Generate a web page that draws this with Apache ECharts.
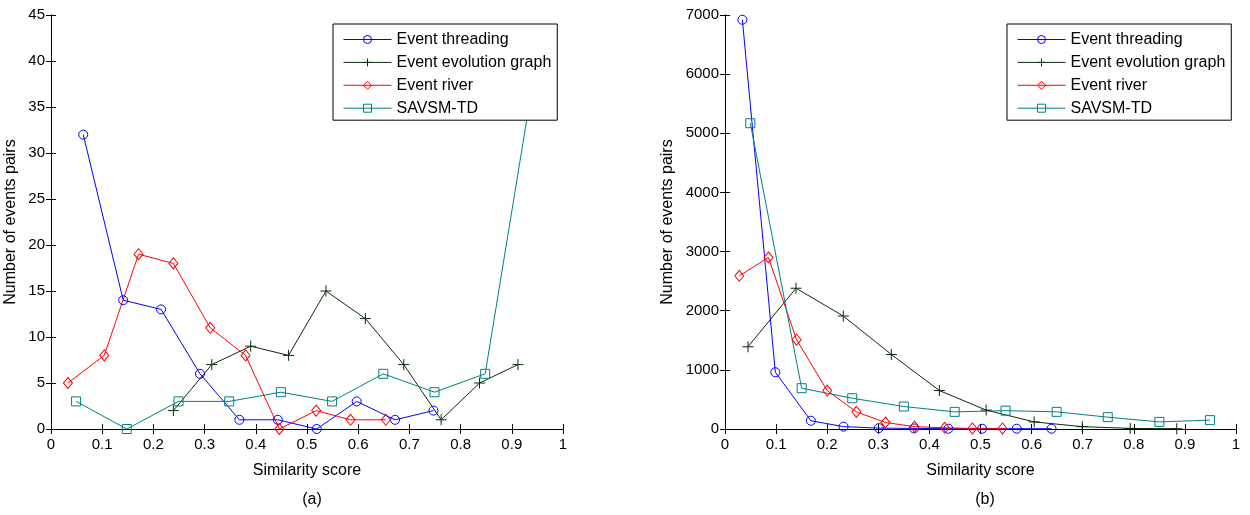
<!DOCTYPE html>
<html>
<head>
<meta charset="utf-8">
<script src="https://cdn.jsdelivr.net/npm/echarts@6/dist/echarts.min.js"></script>
<style>
  html, body { margin: 0; padding: 0; background: #fff; }
  #main { width: 1250px; height: 515px; }
</style>
</head>
<body>
<div id="main"></div>
<script>
// series names
var names = ['Event threading', 'Event evolution graph', 'Event river', 'SAVSM-TD'];

// (a) left panel
var aThreadX = [0.063, 0.141, 0.215, 0.291, 0.368, 0.443, 0.519, 0.597, 0.672, 0.747];
var aThreadY = [32, 14, 13, 6, 1, 1, 0, 3, 1, 2];
var aGraphX = [0.239, 0.314, 0.390, 0.464, 0.537, 0.614, 0.689, 0.762, 0.837, 0.912];
var aGraphY = [2, 7, 9, 8, 15, 12, 7, 1, 5, 7];
var aRiverX = [0.033, 0.104, 0.171, 0.239, 0.311, 0.380, 0.446, 0.518, 0.585, 0.654];
var aRiverY = [5, 8, 19, 18, 11, 8, 0, 2, 1, 1];
var aSavsmX = [0.049, 0.148, 0.249, 0.348, 0.449, 0.549, 0.649, 0.749, 0.848, 0.948];
var aSavsmY = [3, 0, 3, 3, 4, 3, 6, 4, 6, 40];

// (b) right panel
var bThreadX = [0.034, 0.0985, 0.168, 0.232, 0.301, 0.370, 0.437, 0.503, 0.571, 0.639];
var bThreadY = [6920, 960, 140, 40, 15, 10, 5, 5, 5, 5];
var bGraphX = [0.045, 0.139, 0.2315, 0.3255, 0.4195, 0.511, 0.605, 0.699, 0.793, 0.884];
var bGraphY = [1390, 2380, 1910, 1260, 650, 320, 120, 40, 10, 5];
var bRiverX = [0.028, 0.085, 0.140, 0.200, 0.257, 0.314, 0.371, 0.430, 0.484, 0.543];
var bRiverY = [2590, 2900, 1510, 650, 290, 110, 40, 20, 10, 10];
var bSavsmX = [0.0495, 0.150, 0.249, 0.350, 0.4495, 0.549, 0.649, 0.749, 0.850, 0.949];
var bSavsmY = [5170, 690, 520, 380, 290, 310, 290, 200, 120, 150];

var colors = ['#0000ff', '#0d2b0d', '#ff0000', '#008080'];
var symbols = ['circle', 'path://M0,5L10,5M5,0L5,10', 'diamond', 'rect'];
var symbolSizes = [9, 11, [9, 11], 9];
var font = "'Liberation Sans', Arial, sans-serif";

function pairs(xs, ys) {
  return xs.map(function (x, i) { return [x, ys[i]]; });
}

function makeSeries(idx, gridIdx, xs, ys) {
  return {
    name: names[idx],
    type: 'line',
    xAxisIndex: gridIdx * 2,
    yAxisIndex: gridIdx * 2,
    data: pairs(xs, ys),
    symbol: symbols[idx],
    symbolSize: symbolSizes[idx],
    showAllSymbol: true,
    animation: false,
    lineStyle: { color: colors[idx], width: 1 },
    itemStyle: { color: 'rgba(255,255,255,0)', borderColor: colors[idx], borderWidth: 1 },
    emphasis: { disabled: true }
  };
}

function axisPair(gridIdx, isX, max, interval, name, nameGap) {
  var main = {
    type: 'value',
    gridIndex: gridIdx,
    min: 0,
    max: max,
    interval: interval,
    position: isX ? 'bottom' : 'left',
    axisLine: { show: true, lineStyle: { color: '#000', width: 1 } },
    axisTick: { show: true, inside: true, length: 5, lineStyle: { color: '#000' } },
    axisLabel: {
      color: '#000', fontSize: 15, fontFamily: font, margin: isX ? 8 : 6,
      formatter: function (v) { return String(v); }
    },
    splitLine: { show: false },
    name: name,
    nameLocation: 'middle',
    nameGap: nameGap,
    nameTextStyle: { color: '#000', fontSize: 16, fontFamily: font }
  };
  var mirror = {
    type: 'value',
    gridIndex: gridIdx,
    min: 0,
    max: max,
    interval: interval,
    position: isX ? 'top' : 'right',
    axisLine: { show: true, lineStyle: { color: '#000', width: 1 } },
    axisTick: { show: true, inside: true, length: 5, lineStyle: { color: '#000' } },
    axisLabel: { show: false },
    splitLine: { show: false }
  };
  return [main, mirror];
}

function legendAt(left) {
  return {
    orient: 'vertical',
    left: left,
    top: 24,
    padding: [7.5, 6, 4, 10],
    itemWidth: 48,
    itemHeight: 10,
    itemGap: 6.9,
    itemTextGap: 6,
    borderColor: '#000',
    borderWidth: 1,
    backgroundColor: '#fff',
    selectedMode: false,
    itemStyle: { borderWidth: 1 },
    lineStyle: { width: 1 },
    textStyle: { color: '#000', fontSize: 16, fontFamily: font },
    data: names,
    z: 10
  };
}

var chart = echarts.init(document.getElementById('main'));

var xAxes = [].concat(
  axisPair(0, true, 1, 0.1, 'Similarity score', 34),
  axisPair(1, true, 1, 0.1, 'Similarity score', 34)
);
var yAxes = [].concat(
  axisPair(0, false, 45, 5, 'Number of events pairs', 32),
  axisPair(1, false, 7000, 1000, 'Number of events pairs', 49)
);

var series = [
  makeSeries(0, 0, aThreadX, aThreadY),
  makeSeries(1, 0, aGraphX, aGraphY),
  makeSeries(2, 0, aRiverX, aRiverY),
  makeSeries(3, 0, aSavsmX, aSavsmY),
  makeSeries(0, 1, bThreadX, bThreadY),
  makeSeries(1, 1, bGraphX, bGraphY),
  makeSeries(2, 1, bRiverX, bRiverY),
  makeSeries(3, 1, bSavsmX, bSavsmY)
];

chart.setOption({
  backgroundColor: '#fff',
  animation: false,
  title: [
    { text: '(a)', left: 307, top: 487, textAlign: 'center',
      textStyle: { color: '#000', fontSize: 16, fontWeight: 'normal', fontFamily: font } },
    { text: '(b)', left: 980, top: 487, textAlign: 'center',
      textStyle: { color: '#000', fontSize: 16, fontWeight: 'normal', fontFamily: font } }
  ],
  grid: [
    { left: 51, top: 15, width: 512, height: 414 },
    { left: 725, top: 15, width: 511, height: 414 }
  ],
  legend: [legendAt(333), legendAt(1007)],
  xAxis: xAxes,
  yAxis: yAxes,
  series: series
});

window.addEventListener('resize', function () {
  chart.resize();
});
</script>
</body>
</html>
